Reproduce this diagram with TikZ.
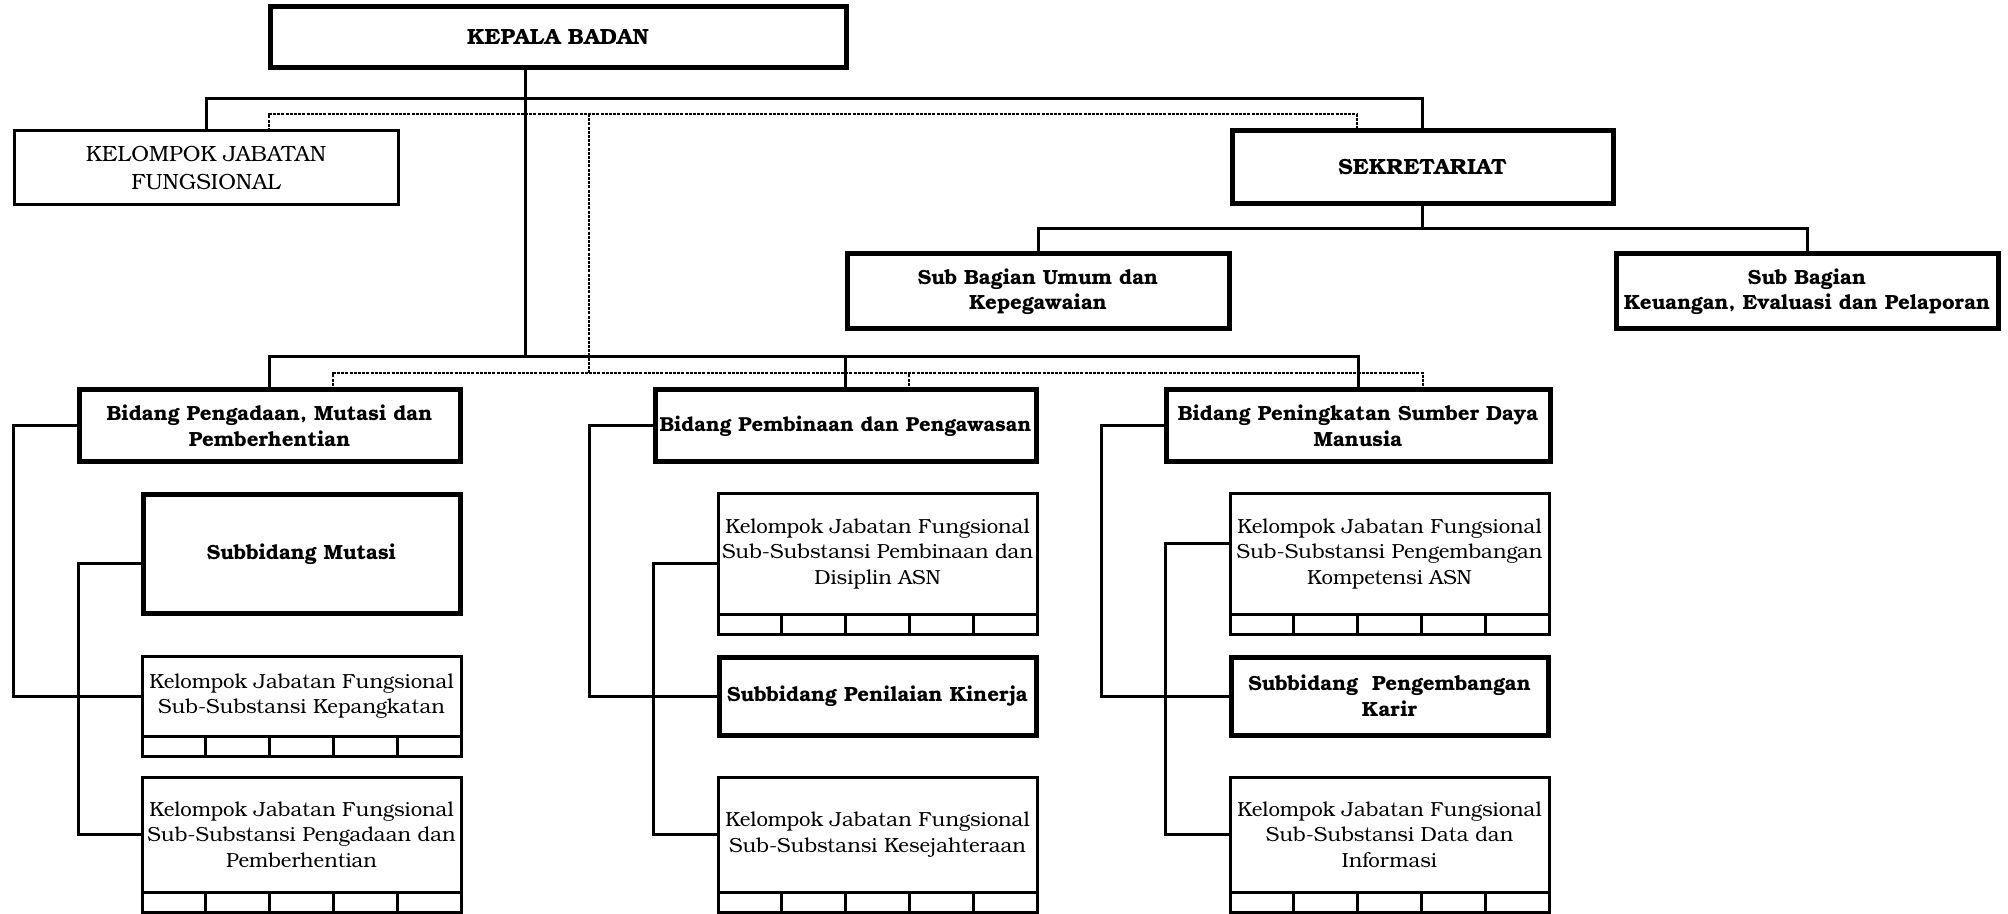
\documentclass[tikz,border=0pt]{standalone}
\usepackage{fontspec}
\setmainfont{TeX Gyre Bonum}
\usetikzlibrary{calc}
\tikzset{
  sz/.style n args={2}{minimum width=#1*0.5pt, minimum height=#2*0.5pt},
  box/.style={draw, rectangle, inner sep=0pt, outer sep=0pt, align=center, font=\fontsize{10.2}{12.8}\selectfont},
  thickbox/.style={box, line width=2.5pt, font=\fontsize{10.25}{12.8}\selectfont\bfseries},
  capsbox/.style={thickbox, font=\fontsize{11}{13}\selectfont\bfseries},
  thinbox/.style={box, line width=1.5pt},
  thinline/.style={line width=1.5pt},
  conn/.style={line width=1.5pt},
  dotconn/.style={line width=1.2pt, dash pattern=on 1.5pt off 0.6pt},
}
\newcommand\kjfcells[1]{%
  \draw[thinline] (#1.south west) rectangle ($(#1.south east)+(0,20)$);
  \foreach \i in {1,2,3,4}{\draw[thinline] ($(#1.south west)!\i/5!(#1.south east)$) -- ++(0,20);}
}
\begin{document}
\begin{tikzpicture}[x=0.5pt,y=-0.5pt]
\fill[white] (0,0) rectangle (2008,914);
\useasboundingbox (0,0) rectangle (2008,914);
\clip (0,0) rectangle (2008,914);

% top level
\node[capsbox, sz={576}{61}] (kepala) at (558,37.5) {KEPALA BADAN};
\node[thinbox, sz={384}{74}, font=\fontsize{11}{14}\selectfont] (kjft) at (206,168) {KELOMPOK JABATAN\\FUNGSIONAL};
\node[capsbox, sz={381}{73}] (sek) at (1422.5,167.5) {SEKRETARIAT};
\node[thickbox, sz={382}{75}] (subum) at (1038,291.5) {Sub Bagian Umum dan\\Kepegawaian};
\node[thickbox, sz={382}{75}] (subkeu) at (1807,291.5) {Sub Bagian\\Keuangan, Evaluasi dan Pelaporan};

% bidang
\node[thickbox, sz={381}{72}] (bid1) at (269.5,426) {Bidang Pengadaan, Mutasi dan\\Pemberhentian};
\node[thickbox, sz={381}{72}, font=\fontsize{10.1}{12.8}\selectfont\bfseries] (bid2) at (845.5,426) {Bidang Pembinaan dan Pengawasan};
\node[thickbox, sz={384}{72}] (bid3) at (1358,426) {Bidang Peningkatan Sumber Daya\\Manusia};

% column 1
\node[thickbox, sz={317}{118}] (mut) at (301.5,554) {Subbidang Mutasi};
\node[thinbox, sz={319}{80}] (k1a) at (301.5,696) {Kelompok Jabatan Fungsional\\Sub-Substansi Kepangkatan};
\node[thinbox, sz={319}{115}] (k1b) at (301.5,834.5) {Kelompok Jabatan Fungsional\\Sub-Substansi Pengadaan dan\\Pemberhentian};

% column 2
\node[thinbox, sz={319}{120}] (k2a) at (877.5,554) {Kelompok Jabatan Fungsional\\Sub-Substansi Pembinaan dan\\Disiplin ASN};
\node[thickbox, sz={317}{78}] (pen) at (877.5,696) {Subbidang Penilaian Kinerja};
\node[thinbox, sz={319}{115}] (k2b) at (877.5,834.5) {Kelompok Jabatan Fungsional\\Sub-Substansi Kesejahteraan};

% column 3
\node[thinbox, sz={319}{120}] (k3a) at (1389.5,554) {Kelompok Jabatan Fungsional\\Sub-Substansi Pengembangan\\Kompetensi ASN};
\node[thickbox, sz={317}{78}] (karir) at (1389.5,696) {Subbidang\ \ Pengembangan\\Karir};
\node[thinbox, sz={319}{115}] (k3b) at (1389.5,834.5) {Kelompok Jabatan Fungsional\\Sub-Substansi Data dan\\Informasi};

\kjfcells{k1a}
\kjfcells{k1b}
\kjfcells{k2a}
\kjfcells{k2b}
\kjfcells{k3a}
\kjfcells{k3b}

% solid connectors
\coordinate (busT) at (0,99);
\coordinate (busS) at (0,229);
\coordinate (busL) at (0,357);
\coordinate (kv) at ($(kepala.south)+(-33,0)$);
\draw[conn] (kjft.north) -- (kjft.north |- busT) -- (sek.north |- busT) -- (sek.north);
\draw[conn] (kv) -- (kv |- busL);
\draw[conn] (bid1.north) -- (bid1.north |- busL) -- (bid3.north |- busL) -- (bid3.north);
\draw[conn] (bid2.north) -- (bid2.north |- busL);
\draw[conn] (sek.south) -- (sek.south |- busS);
\draw[conn] (subum.north) -- (subum.north |- busS) -- (subkeu.north |- busS) -- (subkeu.north);

% dotted connectors
\coordinate (dT) at (0,114);
\coordinate (dB) at (0,373);
\coordinate (dl) at ($(kjft.north)+(63,0)$);
\coordinate (dr) at ($(sek.north)+(-65.5,0)$);
\coordinate (dv) at (589,114);
\coordinate (e1) at ($(bid1.north)+(63.5,0)$);
\coordinate (e2) at ($(bid2.north)+(63.5,0)$);
\coordinate (e3) at ($(bid3.north)+(65,0)$);
\draw[dotconn] (dl) -- (dl |- dT) -- (dr |- dT) -- (dr);
\draw[dotconn] (dv) -- (dv |- dB);
\draw[dotconn] (e1) -- (e1 |- dB) -- (e3 |- dB) -- (e3);
\draw[dotconn] (e2) -- (e2 |- dB);

% column connectors
\draw[conn] (bid1.west) -- ++(-66,0) |- (k1a.west);
\draw[conn] ([yshift=-4.5pt]mut.west) -- ++(-65,0) |- (k1b.west);
\draw[conn] (bid2.west) -- ++(-66,0) |- (pen.west);
\draw[conn] ([yshift=-4.5pt]k2a.west) -- ++(-65,0) |- (k2b.west);
\draw[conn] (bid3.west) -- ++(-65,0) |- (karir.west);
\draw[conn] ([yshift=5.5pt]k3a.west) -- ++(-65,0) |- (k3b.west);
\end{tikzpicture}
\end{document}
